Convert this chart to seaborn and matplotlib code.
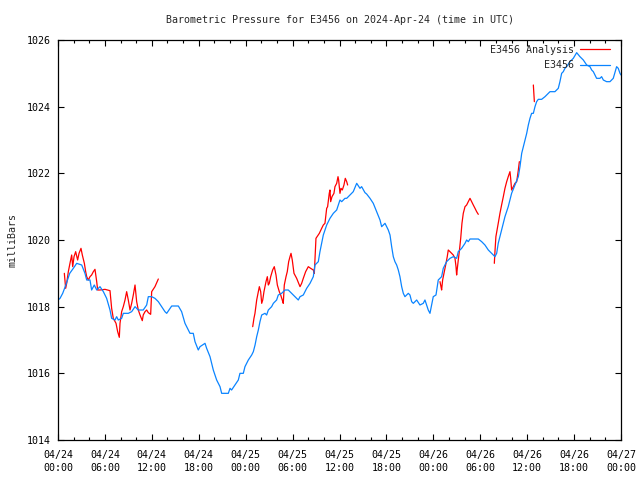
"""Barometric pressure chart for station E3456, 2024-04-24 .. 2024-04-27 (UTC)."""
import matplotlib
matplotlib.use("Agg")
import matplotlib.pyplot as plt
import matplotlib.dates as mdates
from matplotlib.lines import Line2D
import pandas as pd
import seaborn as sns

START = pd.Timestamp("2024-04-24 00:00")

# observed pressure (E3456): hours since start, millibars
obs_hours = [
    0.0, 0.26, 0.6, 1.0, 1.5, 1.96, 2.39, 3.03, 3.45, 3.67, 4.09, 4.3, 4.64, 4.95,
    5.37, 5.8, 6.22, 6.65, 6.86, 7.29, 7.5, 7.71, 8.14, 8.35, 8.99, 9.42, 9.85,
    10.27, 10.9, 11.34, 11.55, 11.98, 12.4, 12.83, 13.26, 13.68, 13.9, 14.54,
    15.39, 15.81, 16.24, 16.45, 16.88, 17.3, 17.52, 17.94, 18.16, 18.8, 19.01,
    19.44, 19.86, 20.29, 20.72, 20.93, 21.78, 22.0, 22.2, 22.63, 23.06, 23.27,
    23.7, 23.91, 24.34, 24.77, 24.98, 25.2, 25.41, 25.62, 25.83, 26.05, 26.47,
    26.68, 26.9, 27.32, 27.54, 27.96, 28.17, 28.6, 29.03, 29.45, 29.88, 30.31,
    30.73, 30.95, 31.37, 31.8, 32.23, 32.65, 32.86, 33.29, 33.5, 33.93, 34.36,
    34.78, 35.21, 35.64, 36.06, 36.28, 36.7, 36.92, 37.34, 37.76, 38.2, 38.62,
    38.83, 39.26, 39.47, 39.9, 40.32, 40.75, 41.18, 41.39, 41.82, 42.24, 42.46,
    42.67, 42.88, 43.09, 43.31, 43.52, 43.73, 43.95, 44.16, 44.37, 44.8, 45.01,
    45.23, 45.44, 45.87, 46.29, 46.71, 46.93, 47.14, 47.35, 47.57, 47.78, 47.99,
    48.34, 48.63, 49.06, 49.27, 49.7, 50.13, 50.55, 50.98, 51.19, 51.62, 52.05,
    52.26, 52.47, 52.69, 53.75, 54.18, 54.6, 55.03, 55.46, 55.67, 55.88, 56.1,
    56.3, 56.73, 57.16, 57.58, 58.01, 58.44, 58.87, 59.08, 59.3, 59.51, 59.72,
    59.94, 60.15, 60.36, 60.57, 60.79, 61.0, 61.21, 61.42, 61.85, 62.28, 62.7,
    62.92, 63.55, 63.98, 64.19, 64.41, 64.62, 64.83, 65.05, 65.47, 65.9, 66.33,
    66.75, 67.18, 67.61, 68.03, 68.25, 68.46, 68.88, 69.31, 69.52, 69.74, 70.16,
    70.59, 71.01, 71.44, 71.65, 71.87, 72.0,
]
obs_mb = [
    1018.2, 1018.25, 1018.4, 1018.65, 1019.0, 1019.15, 1019.3, 1019.25, 1019.0,
    1018.8, 1018.8, 1018.5, 1018.65, 1018.5, 1018.6, 1018.45, 1018.25, 1017.9,
    1017.65, 1017.6, 1017.7, 1017.6, 1017.65, 1017.8, 1017.8, 1017.85, 1018.0,
    1017.9, 1017.9, 1018.05, 1018.3, 1018.3, 1018.25, 1018.15, 1018.0, 1017.85,
    1017.8, 1018.02, 1018.02, 1017.85, 1017.5, 1017.4, 1017.2, 1017.2, 1016.95,
    1016.7, 1016.8, 1016.9, 1016.75, 1016.5, 1016.1, 1015.8, 1015.6, 1015.4,
    1015.4, 1015.55, 1015.5, 1015.65, 1015.8, 1016.0, 1016.0, 1016.2, 1016.4,
    1016.55, 1016.65, 1016.85, 1017.1, 1017.3, 1017.55, 1017.75, 1017.8, 1017.75,
    1017.9, 1018.0, 1018.1, 1018.2, 1018.35, 1018.4, 1018.5, 1018.5, 1018.4,
    1018.3, 1018.2, 1018.3, 1018.35, 1018.55, 1018.7, 1018.9, 1019.25, 1019.35,
    1019.65, 1020.15, 1020.45, 1020.65, 1020.8, 1020.9, 1021.2, 1021.15, 1021.25,
    1021.25, 1021.35, 1021.45, 1021.7, 1021.55, 1021.6, 1021.42, 1021.38, 1021.25,
    1021.1, 1020.85, 1020.6, 1020.4, 1020.5, 1020.3, 1020.15, 1019.8, 1019.5,
    1019.35, 1019.25, 1019.1, 1018.9, 1018.6, 1018.4, 1018.3, 1018.4, 1018.35,
    1018.15, 1018.1, 1018.2, 1018.05, 1018.1, 1018.2, 1018.05, 1017.9, 1017.8,
    1018.05, 1018.3, 1018.35, 1018.8, 1018.9, 1019.15, 1019.35, 1019.45, 1019.5,
    1019.45, 1019.65, 1019.75, 1019.9, 1020.0, 1019.95, 1020.03, 1020.03, 1019.95,
    1019.85, 1019.7, 1019.6, 1019.55, 1019.5, 1019.6, 1019.9, 1020.3, 1020.7,
    1021.0, 1021.4, 1021.65, 1021.9, 1022.2, 1022.6, 1022.8, 1023.0, 1023.2,
    1023.45, 1023.65, 1023.8, 1023.8, 1024.0, 1024.15, 1024.22, 1024.22, 1024.3,
    1024.4, 1024.45, 1024.45, 1024.55, 1024.75, 1025.0, 1025.05, 1025.15, 1025.2,
    1025.35, 1025.45, 1025.62, 1025.5, 1025.4, 1025.25, 1025.2, 1025.1, 1025.05,
    1024.85, 1024.85, 1024.9, 1024.8, 1024.75, 1024.75, 1024.85, 1025.2, 1025.15,
    1025.0, 1024.95,
]

# analysis (E3456 Analysis): broken into runs where data exists
ana_hours = [
    # run 1
    0.81, 0.98, 1.11, 1.32, 1.53, 1.75, 1.88, 2.05, 2.26, 2.51, 2.69, 2.94, 3.11,
    3.37, 3.54, 3.67, 3.88, 4.09, 4.3, 4.52, 4.73, 4.95, 5.07, 5.37, 6.01, 6.65,
    6.86, 7.07, 7.42, 7.63, 7.84, 7.93, 8.14, 8.35, 8.57, 8.78, 8.99, 9.21, 9.42,
    9.63, 9.85, 10.06, 10.27, 10.49, 10.78, 10.9, 11.13, 11.34, 11.55, 11.85,
    11.98, 12.4, 12.83,
    # run 2
    24.9, 25.06, 25.19, 25.41, 25.62, 25.75, 25.92, 26.05, 26.18, 26.34, 26.6,
    26.77, 26.9, 27.02, 27.2, 27.45, 27.66, 27.88, 28.05, 28.3, 28.48, 28.68,
    28.81, 28.94, 29.16, 29.32, 29.5, 29.67, 29.8, 29.96, 30.18, 30.52, 30.95,
    31.16, 31.37, 31.67, 32.01, 32.31, 32.65, 32.78, 32.99, 33.42, 33.72, 33.93,
    34.14, 34.36, 34.48, 34.69, 34.78, 34.87, 35.04, 35.29, 35.42, 35.64, 35.81,
    35.89, 36.06, 36.19, 36.36, 36.57, 36.74, 36.92, 37.04,
    # run 3
    48.85, 48.98, 49.06, 49.19, 49.36, 49.62, 49.78, 49.91, 50.13, 50.34, 50.55,
    50.77, 50.9, 50.98, 51.07, 51.19, 51.32, 51.5, 51.66, 51.83, 52.05, 52.26,
    52.47, 52.69, 52.9, 53.11, 53.33, 53.54, 53.75,
    # run 4
    55.8, 55.88, 56.0, 56.3, 56.52, 56.73, 56.95, 57.16, 57.38, 57.58, 57.8,
    57.89, 58.01, 58.23, 58.44, 58.66, 58.87, 59.0,
    # run 5
    60.79, 60.92,
]
ana_mb = [
    1019.0, 1018.55, 1018.7, 1019.05, 1019.3, 1019.55, 1019.2, 1019.5, 1019.65,
    1019.4, 1019.6, 1019.75, 1019.55, 1019.3, 1019.05, 1018.9, 1018.8, 1018.9,
    1018.95, 1019.05, 1019.12, 1018.75, 1018.5, 1018.5, 1018.52, 1018.48, 1017.95,
    1017.65, 1017.5, 1017.25, 1017.08, 1017.5, 1017.85, 1018.0, 1018.2, 1018.45,
    1018.2, 1017.9, 1018.1, 1018.35, 1018.65, 1018.15, 1017.9, 1017.75, 1017.58,
    1017.75, 1017.85, 1017.9, 1017.82, 1017.77, 1018.45, 1018.6, 1018.83,
    1017.4, 1017.65, 1017.8, 1018.2, 1018.45, 1018.6, 1018.45, 1018.1, 1018.2,
    1018.45, 1018.75, 1018.9, 1018.65, 1018.7, 1018.9, 1019.1, 1019.2, 1018.95,
    1018.65, 1018.45, 1018.35, 1018.2, 1018.1, 1018.65, 1018.9, 1019.05, 1019.35,
    1019.5, 1019.6, 1019.4, 1019.0, 1018.85, 1018.6, 1018.7, 1018.85, 1019.05,
    1019.2, 1019.15, 1019.1, 1019.0, 1020.05, 1020.2, 1020.35, 1020.45, 1020.5,
    1020.95, 1021.0, 1021.4, 1021.5, 1021.15, 1021.3, 1021.4, 1021.6, 1021.7,
    1021.9, 1021.8, 1021.4, 1021.55, 1021.5, 1021.65, 1021.85, 1021.75, 1021.65,
    1018.75, 1018.6, 1018.5, 1018.8, 1019.0, 1019.3, 1019.5, 1019.7, 1019.65,
    1019.6, 1019.55, 1019.45, 1019.2, 1018.95, 1019.15, 1019.4, 1019.65, 1020.05,
    1020.5, 1020.8, 1021.0, 1021.05, 1021.15, 1021.25, 1021.15, 1021.05, 1020.95,
    1020.85, 1020.77,
    1019.3, 1019.65, 1020.1, 1020.5, 1020.8, 1021.05, 1021.3, 1021.55, 1021.75,
    1021.9, 1022.05, 1021.85, 1021.5, 1021.6, 1021.7, 1021.75, 1022.1, 1022.35,
    1024.65, 1024.15,
]
ana_run = [1] * 53 + [2] * 63 + [3] * 29 + [4] * 18 + [5] * 2

y_ticks = [1014, 1016, 1018, 1020, 1022, 1024, 1026]

obs = pd.DataFrame({"time": START + pd.to_timedelta(obs_hours, unit="h"), "mb": obs_mb})
ana = pd.DataFrame({
    "time": START + pd.to_timedelta(ana_hours, unit="h"),
    "mb": ana_mb,
    "run": ana_run,
})

RED = "#ff0000"
BLUE = "#0a84ff"
FS = 7.2

sns.set_style("ticks")
plt.rcParams["font.family"] = ["DejaVu Sans Mono"]
plt.rcParams["font.size"] = FS

fig = plt.figure(figsize=(6.4, 4.8), dpi=100)
ax = fig.add_axes([58 / 640, 40 / 480, 563 / 640, 400 / 480])

sns.lineplot(data=ana, x="time", y="mb", units="run", estimator=None,
             color=RED, lw=0.9, ax=ax)
sns.lineplot(data=obs, x="time", y="mb", color=BLUE, lw=0.9, ax=ax)

ax.set_xlim(START, START + pd.Timedelta(hours=72))
ax.set_ylim(1014, 1026)
ax.set_yticks(y_ticks)
ax.set_yticklabels([str(t) for t in y_ticks])

ax.xaxis.set_major_locator(mdates.HourLocator(byhour=[0, 6, 12, 18]))
ax.xaxis.set_minor_locator(mdates.HourLocator(byhour=range(0, 24, 2)))
ax.xaxis.set_major_formatter(mdates.DateFormatter("%m/%d\n%H:%M"))

ax.tick_params(which="both", direction="in", top=True, right=True,
               colors="black", labelsize=FS, width=0.8)
ax.tick_params(which="major", length=4.5)
ax.tick_params(axis="x", which="major", pad=7)
ax.tick_params(axis="y", which="major", pad=5)
ax.tick_params(which="minor", length=2.5)
ax.tick_params(axis="y", which="minor", left=False, right=False)
for sp in ax.spines.values():
    sp.set_color("black")
    sp.set_linewidth(0.9)

ax.set_xlabel("")
ax.set_ylabel("milliBars", fontsize=FS)
ax.yaxis.set_label_coords(-0.072, 0.5)
ax.set_title("Barometric Pressure for E3456 on 2024-Apr-24 (time in UTC)",
             fontsize=FS, pad=12)

handles = [Line2D([], [], color=RED, lw=0.9), Line2D([], [], color=BLUE, lw=0.9)]
ax.legend(handles, ["E3456 Analysis", "E3456"], loc="upper right",
          bbox_to_anchor=(0.9805, 0.988), frameon=False, markerfirst=False,
          handlelength=3.0, handletextpad=0.6, borderpad=0, borderaxespad=0,
          labelspacing=0.55, fontsize=FS)

for lbl in ax.get_xticklabels():
    lbl.set_linespacing(1.35)

fig.savefig("out.png", dpi=100)
plt.close(fig)
